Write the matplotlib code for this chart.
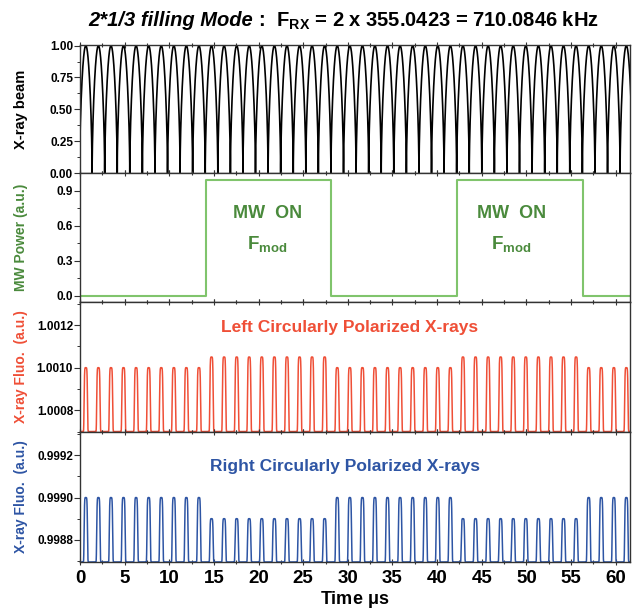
import numpy as np
import matplotlib
matplotlib.use("Agg")
import matplotlib.pyplot as plt
from matplotlib.ticker import MultipleLocator, FormatStrFormatter

plt.rcParams['font.family'] = ['Liberation Sans', 'DejaVu Sans']
plt.rcParams['font.weight'] = 'bold'
plt.rcParams['mathtext.fontset'] = 'custom'
plt.rcParams['mathtext.rm'] = 'Liberation Sans:bold'
plt.rcParams['mathtext.bf'] = 'Liberation Sans:bold'
plt.rcParams['mathtext.it'] = 'Liberation Sans:italic:bold'

# pulse centres (us), one per X-ray bunch
pulse_times = [0.65, 2.06, 3.47, 4.87, 6.28, 7.69, 9.10, 10.51, 11.91, 13.32,
               14.73, 16.14, 17.55, 18.95, 20.36, 21.77, 23.18, 24.59, 25.99, 27.40,
               28.81, 30.22, 31.63, 33.03, 34.44, 35.85, 37.26, 38.67, 40.07, 41.48,
               42.89, 44.30, 45.71, 47.11, 48.52, 49.93, 51.34, 52.75, 54.15, 55.56,
               56.97, 58.38, 59.79, 61.19]
beam_peaks = [1.0] * 44

# MW power square wave (step edges)
mw_times = [0.0, 14.07, 28.16, 42.22, 56.30, 61.6]
mw_levels = [0.0, 0.99, 0.0, 0.99, 0.0, 0.0]

# fluorescence peak heights
left_base = 1.0007
left_peaks = ([1.0010] * 10 + [1.00105] * 10 + [1.0010] * 10 + [1.00105] * 10 + [1.0010] * 4)
right_base = 0.998695
right_peaks = ([0.9990] * 10 + [0.9989] * 10 + [0.9990] * 10 + [0.9989] * 10 + [0.9990] * 4)

GREEN_T = '#4a8a3c'
GREEN_L = '#80c46c'
RED = '#ef4f37'
BLUE = '#2e55a4'
FRAME = '#333333'

t = np.linspace(0, 61.6, 20000)
period = pulse_times[1] - pulse_times[0]


def beam_curve(times, peaks):
    # one arch per bunch, touching zero between bunches
    xs, ys = [], []
    for tk, p in zip([times[0] - period] + times, [peaks[0]] + peaks):
        u = np.linspace(-0.5, 0.5, 301)
        xs.append(tk + u * period)
        ys.append(p * np.cos(np.pi * u).clip(0) ** 0.6)
    return np.concatenate(xs), np.concatenate(ys)


def fluo_curve(times, peaks, base, w=0.2):
    y = np.full_like(t, base)
    for tk, p in zip(times, peaks):
        y = y + (p - base) * np.exp(-((t - tk) / w) ** 6)
    return y


fig = plt.figure(figsize=(6.32, 6.10), dpi=100)
left, width = 80 / 632, 550 / 632
edges = [45, 173, 302, 432, 562]
axes = []
for i in range(4):
    top, bot = edges[i], edges[i + 1]
    ax = fig.add_axes([left, 1 - bot / 610, width, (bot - top) / 610],
                      sharex=axes[0] if axes else None)
    axes.append(ax)

ax1, ax2, ax3, ax4 = axes

bx, by = beam_curve(pulse_times, beam_peaks)
ax1.plot(bx, by, color='black', lw=1.2)
ax1.set_ylim(0, 1.005)
ax1.yaxis.set_major_locator(MultipleLocator(0.25))
ax1.yaxis.set_minor_locator(MultipleLocator(0.125))
ax1.yaxis.set_major_formatter(FormatStrFormatter('%.2f'))
ax1.set_ylabel('X-ray beam', fontsize=10.5, fontweight='bold', color='black')

ax2.step(mw_times, mw_levels, where='post', color=GREEN_L, lw=1.5)
ax2.set_ylim(-0.053, 1.05)
ax2.yaxis.set_major_locator(MultipleLocator(0.3))
ax2.yaxis.set_minor_locator(MultipleLocator(0.15))
ax2.yaxis.set_major_formatter(FormatStrFormatter('%.1f'))
ax2.set_ylabel('MW Power (a.u.)', fontsize=10, fontweight='bold', color=GREEN_T)
for xc in (21.0, 48.3):
    ax2.text(xc, 0.70, 'MW  ON', color=GREEN_T, fontsize=13, fontweight='bold',
             ha='center', va='center')
    ax2.text(xc, 0.44, r'F$_{\mathbf{mod}}$', color=GREEN_T, fontsize=13.5,
             fontweight='bold', ha='center', va='center')

ax3.plot(t, fluo_curve(pulse_times, left_peaks, left_base), color=RED, lw=1.1)
ax3.set_ylim(1.000698, 1.001308)
ax3.yaxis.set_major_locator(MultipleLocator(0.0002))
ax3.yaxis.set_minor_locator(MultipleLocator(0.0001))
ax3.yaxis.set_major_formatter(FormatStrFormatter('%.4f'))
ax3.set_ylabel('X-ray Fluo.  (a.u.)', fontsize=10, fontweight='bold', color=RED)
ax3.text(30.2, 1.00119, 'Left Circularly Polarized X-rays', color=RED, fontsize=12.5,
         fontweight='bold', ha='center', va='center')

ax4.plot(t, fluo_curve(pulse_times, right_peaks, right_base), color=BLUE, lw=1.1)
ax4.set_ylim(0.998695, 0.99931)
ax4.yaxis.set_major_locator(MultipleLocator(0.0002))
ax4.yaxis.set_minor_locator(MultipleLocator(0.0001))
ax4.yaxis.set_major_formatter(FormatStrFormatter('%.4f'))
ax4.set_ylabel('X-ray Fluo.  (a.u.)', fontsize=10, fontweight='bold', color=BLUE)
ax4.text(29.7, 0.999145, 'Right Circularly Polarized X-rays', color=BLUE, fontsize=12.5,
         fontweight='bold', ha='center', va='center')

ax4.set_xlim(0, 61.6)
ax4.xaxis.set_major_locator(MultipleLocator(5))
ax4.xaxis.set_minor_locator(MultipleLocator(2.5))
ax4.set_xlabel(r'Time $\mathbf{\mu}$s', fontsize=13, fontweight='bold', labelpad=2)

for i, ax in enumerate(axes):
    for s in ax.spines.values():
        s.set_color(FRAME)
        s.set_linewidth(1.0)
    ax.yaxis.set_label_coords(-0.094, 0.5)
    ax.tick_params(axis='y', which='major', direction='out', length=4, width=0.8,
                   labelsize=8.5, colors=FRAME, labelcolor='black', pad=1)
    ax.tick_params(axis='y', which='minor', direction='out', length=2, width=0.7, colors=FRAME)
    ax.tick_params(axis='x', which='both', top=True, bottom=True, direction='inout',
                   colors=FRAME, width=0.8)
    ax.tick_params(axis='x', which='major', length=5)
    ax.tick_params(axis='x', which='minor', length=3)
    for lab in ax.get_yticklabels():
        lab.set_fontweight('bold')
    if i < 3:
        ax.tick_params(axis='x', labelbottom=False)

ax4.tick_params(axis='x', which='major', labelsize=13.5, labelcolor='black', pad=3)
for lab in ax4.get_xticklabels():
    lab.set_fontweight('bold')

fig.text(0.40, 0.966, '2*1/3 filling Mode', fontsize=14.5, fontweight='bold',
         fontstyle='italic', ha='right', va='center')
fig.text(0.40, 0.966, r' :  F$_{\mathbf{RX}}$ = 2 x 355.0423 = 710.0846 kHz',
         fontsize=14.5, fontweight='bold', ha='left', va='center')

fig.savefig('out.png', dpi=100)
